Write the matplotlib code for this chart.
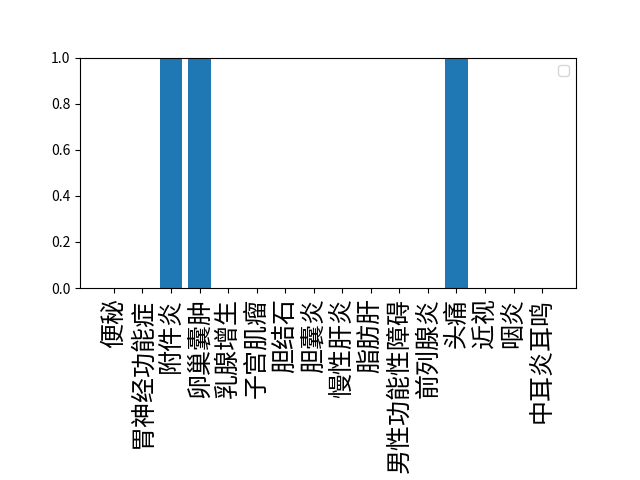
import matplotlib
matplotlib.use("Agg")
import matplotlib.pyplot as plt

plt.rcParams['font.family'] = ['Noto Sans CJK SC', 'DejaVu Sans']
plt.rcParams['axes.unicode_minus'] = False

categories = ['便秘', '胃神经功能症', '附件炎', '卵巢囊肿', '乳腺增生', '子宫肌瘤', '胆结石', '胆囊炎',
              '慢性肝炎', '脂肪肝', '男性功能性障碍', '前列腺炎', '头痛', '近视', '咽炎', '中耳炎耳鸣']
values = [0, 0, 1, 1, 0, 0, 0, 0, 0, 0, 0, 0, 1, 0, 0, 0]

fig, ax = plt.subplots(figsize=(6.4, 4.8), dpi=100)
fig.subplots_adjust(bottom=0.4)
ax.bar(categories, values, color='#1f77b4')
ax.set_ylim(0, 1.0)
plt.xticks(rotation=90, fontsize=18)
ax.legend()
fig.savefig('out.png')
